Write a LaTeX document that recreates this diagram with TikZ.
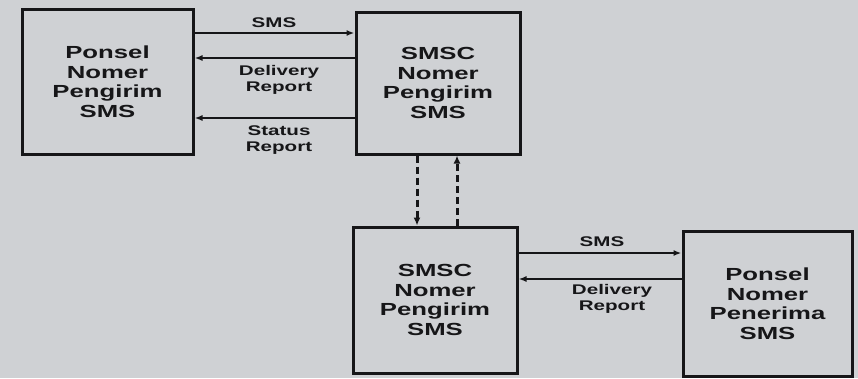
\documentclass[tikz,border=0pt]{standalone}
\usepackage{fontspec}
\setmainfont{Liberation Sans}[FakeStretch=1.47]
\usetikzlibrary{arrows.meta}
\definecolor{bgcol}{RGB}{207,209,212}
\definecolor{ink}{RGB}{22,22,24}
\tikzset{
  box/.style={draw=ink, line width=3pt, align=center, inner sep=0pt,
    font=\fontsize{17.5}{19.5}\selectfont\bfseries, text=ink},
  lbl/.style={align=center, inner sep=0pt,
    font=\fontsize{14}{16}\selectfont\bfseries, text=ink},
  arr/.style={draw=ink, line width=2pt, -{Latex[length=8pt,width=6pt]}},
  darr/.style={draw=ink, line width=3pt, dash pattern=on 7pt off 4pt,
    -{Latex[length=8pt,width=7pt]}}
}
\begin{document}
\begin{tikzpicture}[x=1pt,y=-1pt]
\fill[bgcol] (0,0) rectangle (858,378);
\useasboundingbox (0,0) rectangle (858,378);

\node[box, minimum width=171pt, minimum height=145pt] (b1) at (107.5,81.5)
  {Ponsel\\Nomer\\Pengirim\\SMS};
\node[box, minimum width=164pt, minimum height=142pt] (b2) at (438,83)
  {SMSC\\Nomer\\Pengirim\\SMS};
\node[box, minimum width=164pt, minimum height=146pt] (b3) at (435,300)
  {SMSC\\Nomer\\Pengirim\\SMS};
\node[box, minimum width=169pt, minimum height=145pt] (b4) at (767.5,303.5)
  {Ponsel\\Nomer\\Penerima\\SMS};

\coordinate (ysms) at (0,33);
\coordinate (ydel) at (0,58);
\coordinate (ysta) at (0,118);
\coordinate (xdn) at (417,0);
\coordinate (xup) at (457,0);
\coordinate (ysms2) at (0,253);
\coordinate (ydel2) at (0,279);

\draw[arr] (b1.east |- ysms) -- (b2.west |- ysms);
\draw[arr] (b2.west |- ydel) -- (b1.east |- ydel);
\draw[arr] (b2.west |- ysta) -- (b1.east |- ysta);

\draw[darr] (b2.south -| xdn) -- (b3.north -| xdn);
\draw[darr] (b3.north -| xup) -- (b2.south -| xup);

\draw[arr] (b3.east |- ysms2) -- (b4.west |- ysms2);
\draw[arr] (b4.west |- ydel2) -- (b3.east |- ydel2);

\node[lbl] (l1) at (274,23) {SMS};
\node[lbl] (l2) at (279,80) {Delivery\\Report};
\node[lbl] (l3) at (279,140) {Status\\Report};
\node[lbl] (l4) at (602,242) {SMS};
\node[lbl] (l5) at (612,299) {Delivery\\Report};
\end{tikzpicture}
\end{document}
